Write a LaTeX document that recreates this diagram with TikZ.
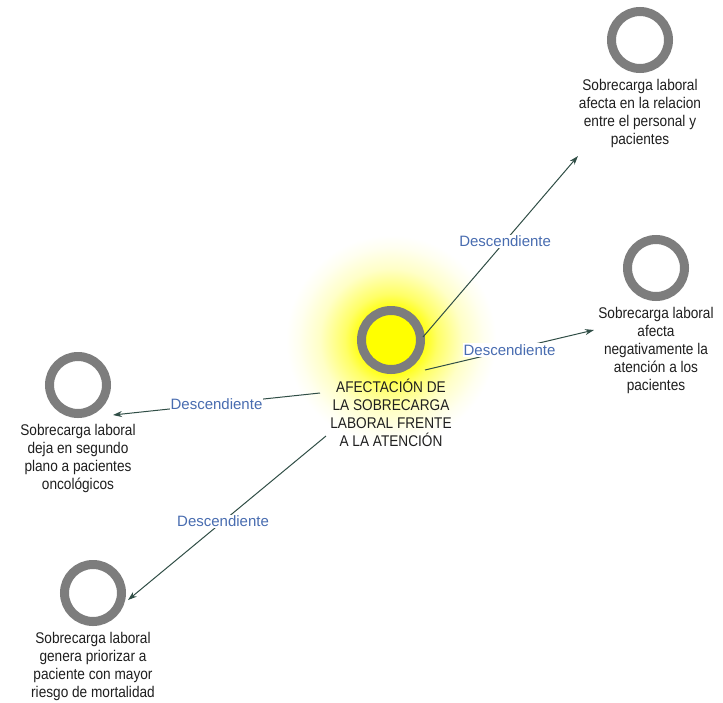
\documentclass[tikz,border=0pt]{standalone}
\usepackage{fontspec}
\setmainfont{Liberation Sans}[FakeStretch=0.88]
\newfontfamily\lblfont{Liberation Sans}
\usetikzlibrary{arrows.meta}
\definecolor{ringgray}{RGB}{125,125,125}
\definecolor{linkcol}{RGB}{48,78,70}
\definecolor{lblblue}{RGB}{72,108,176}
\pgfdeclareradialshading{glow}{\pgfpoint{0bp}{0bp}}{color(0bp)=(yellow); color(7bp)=(yellow); color(11bp)=(yellow!60); color(17bp)=(yellow!22); color(22bp)=(yellow!6); color(25bp)=(white); color(50bp)=(white)}
\begin{document}
\begin{tikzpicture}[x=1pt,y=-1pt,
  ring/.style={circle, draw=ringgray, line width=9pt, minimum size=57pt, inner sep=0pt, fill=white},
  txt/.style={anchor=north, align=center, inner sep=0pt, text=black!88, font=\fontsize{15.5}{18}\selectfont},
  link/.style={draw=linkcol, line width=1pt, -{Stealth[length=9pt,width=6pt]}},
  lbl/.style={fill=white, inner sep=1pt, text=lblblue, font=\lblfont\fontsize{15}{18}\selectfont}]
\useasboundingbox (0,0) rectangle (723,702);
\fill[white] (0,0) rectangle (723,702);
\shade[shading=glow] (391,340) circle (105);
% nodes
\node[ring, fill=none, minimum size=59pt] (c) at (391,340) {};
\node[txt] (ct) at (391,379) {AFECTACIÓN DE\\LA SOBRECARGA\\LABORAL FRENTE\\A LA ATENCIÓN};
\node[ring] (tr) at (640,40) {};
\node[txt] (trt) at (640,79) {Sobrecarga laboral\\afecta en la relacion\\entre el personal y\\pacientes};
\node[ring] (r2) at (656,268) {};
\node[txt] (r2t) at (656,307) {Sobrecarga laboral\\afecta\\negativamente la\\atención a los\\pacientes};
\node[ring] (l) at (78,385) {};
\node[txt] (lt) at (78,424) {Sobrecarga laboral\\deja en segundo\\plano a pacientes\\oncológicos};
\node[ring] (bl) at (93,593) {};
\node[txt] (blt) at (93,632) {Sobrecarga laboral\\genera priorizar a\\paciente con mayor\\riesgo de mortalidad};
% link ends
\coordinate (s1) at (423,337); \coordinate (e1) at (578,156);
\coordinate (s2) at (425,370); \coordinate (e2) at (594,330);
\coordinate (s3) at (320,393); \coordinate (e3) at (113,415);
\coordinate (s4) at (326,436); \coordinate (e4) at (128,600);
\draw[link] (s1) -- node[lbl, pos=0.53] (d1) {Descendiente} (e1);
\draw[link] (s2) -- node[lbl, pos=0.5] (d2) {Descendiente} (e2);
\draw[link] (s3) -- node[lbl, pos=0.5] (d3) {Descendiente} (e3);
\draw[link] (s4) -- node[lbl, pos=0.52] (d4) {Descendiente} (e4);
\end{tikzpicture}
\end{document}
